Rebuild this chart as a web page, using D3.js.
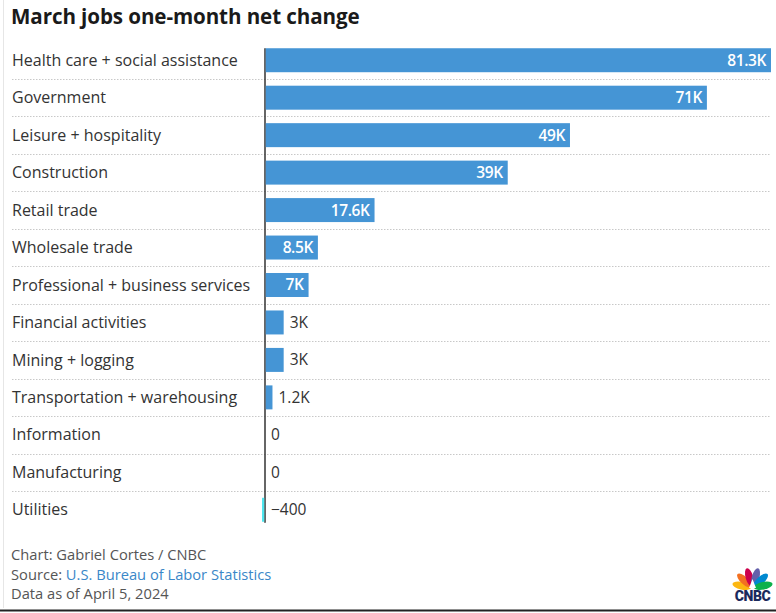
<!DOCTYPE html>
<html>
<head>
<meta charset="utf-8">
<script src="https://cdn.jsdelivr.net/npm/d3@7"></script>
<style>
  html, body { margin: 0; padding: 0; background: #fff; }
  svg { display: block; }
</style>
</head>
<body>
<svg id="chart" width="776" height="613"></svg>
<script>
const titleText = "March jobs one-month net change";
const categories = [
  "Health care + social assistance",
  "Government",
  "Leisure + hospitality",
  "Construction",
  "Retail trade",
  "Wholesale trade",
  "Professional + business services",
  "Financial activities",
  "Mining + logging",
  "Transportation + warehousing",
  "Information",
  "Manufacturing",
  "Utilities"
];
const values = [81300, 71000, 49000, 39000, 17600, 8500, 7000, 3000, 3000, 1200, 0, 0, -400];
const valueLabels = ["81.3K", "71K", "49K", "39K", "17.6K", "8.5K", "7K", "3K", "3K", "1.2K", "0", "0", "\u2212400"];
const footerLines = [
  ["Chart: Gabriel Cortes / CNBC"],
  ["Source: ", "U.S. Bureau of Labor Statistics"],
  ["Data as of April 5, 2024"]
];

const FONT = "'Open Sans', sans-serif";
const svg = d3.select("#chart");
const W = 776, H = 613;

// frame lines
svg.append("line").attr("x1", 3.5).attr("x2", 3.5).attr("y1", 0).attr("y2", 608)
  .attr("stroke", "#e6e6e6").attr("stroke-width", 1);
svg.append("line").attr("x1", 0).attr("x2", W).attr("y1", 610.5).attr("y2", 610.5)
  .attr("stroke", "#222").attr("stroke-width", 2);

svg.append("text").attr("x", 11).attr("y", 24)
  .attr("font-family", FONT).attr("font-weight", 700).attr("font-size", 20.6)
  .attr("letter-spacing", -0.1)
  .attr("fill", "#1a1a1a").text(titleText);

const x = d3.scaleLinear().domain([0, 81300]).range([265, 771]);
const y = d3.scaleBand().domain(categories).range([41.5, 528.5]).paddingInner(0.36).paddingOuter(0.18);
const step = y.step();

// separators
const seps = categories.slice(0, -1);
svg.append("g").selectAll("line").data(seps).join("line")
  .attr("x1", 12).attr("x2", 771)
  .attr("y1", d => Math.round(y(d) + y.bandwidth() + (step - y.bandwidth()) / 2) + 0.5)
  .attr("y2", d => Math.round(y(d) + y.bandwidth() + (step - y.bandwidth()) / 2) + 0.5)
  .attr("stroke", "#c8c8c8").attr("stroke-width", 1).attr("stroke-dasharray", "1.5,1.5");

// category labels
svg.append("g").selectAll("text").data(categories).join("text")
  .attr("x", 12).attr("y", d => y(d) + y.bandwidth() / 2)
  .attr("dy", "0.35em")
  .attr("font-family", FONT).attr("font-size", 16).attr("fill", "#333")
  .text(d => d);

// zero axis
svg.append("line").attr("x1", x(0)).attr("x2", x(0))
  .attr("y1", y(categories[0])).attr("y2", y(categories[categories.length - 1]) + y.bandwidth() + 1)
  .attr("stroke", "#333").attr("stroke-width", 1.5);

// bars
const data = categories.map((c, i) => ({ c, v: values[i], l: valueLabels[i] }));
svg.append("g").selectAll("rect").data(data.filter(d => d.v !== 0)).join("rect")
  .attr("x", d => d.v < 0 ? x(d.v) - 0.5 : x(0) + 0.75)
  .attr("y", d => y(d.c))
  .attr("width", d => d.v < 0 ? Math.abs(x(d.v) - x(0)) - 0.25 : x(d.v) - x(0) - 0.75)
  .attr("height", y.bandwidth())
  .attr("fill", d => d.v < 0 ? "#4ee6ef" : "#4595d5");

// value labels
const inside = d => (x(d.v) - x(0) > 35);
svg.append("g").selectAll("text").data(data).join("text")
  .attr("x", d => inside(d) ? x(d.v) - 5 : Math.max(x(0), x(d.v)) + 6)
  .attr("text-anchor", d => inside(d) ? "end" : "start")
  .attr("y", d => y(d.c) + y.bandwidth() / 2)
  .attr("dy", "0.35em")
  .attr("font-family", FONT).attr("font-size", 15.5)
  .attr("font-weight", d => inside(d) ? 600 : 400)
  .attr("letter-spacing", d => inside(d) ? -0.4 : 0)
  .attr("fill", d => inside(d) ? "#fff" : "#333")
  .text(d => d.l);

// footer
const ft = svg.append("g");
footerLines.forEach((parts, i) => {
  const t = ft.append("text").attr("x", 11).attr("y", 560 + i * 19.5)
    .attr("font-family", FONT).attr("font-size", 14.7).attr("fill", "#555");
  parts.forEach((p, j) => {
    t.append("tspan").attr("fill", j === 1 ? "#3a87c8" : "#555").text(p);
  });
});

// CNBC logo
const logo = svg.append("g").attr("transform", "translate(752.5,588)");
const feathers = [
  { a: -78, c: "#fcb711" },
  { a: -47, c: "#f37021" },
  { a: -16, c: "#cc004c" },
  { a: 16, c: "#6460aa" },
  { a: 47, c: "#0089d0" },
  { a: 78, c: "#0db14b" }
];
logo.selectAll("ellipse").data(feathers).join("ellipse")
  .attr("cx", 0).attr("cy", -11).attr("rx", 3.8).attr("ry", 9.5)
  .attr("transform", d => `rotate(${d.a})`)
  .attr("fill", d => d.c);
logo.append("path").attr("d", "M-3.5,0 L0,-9 L3.5,0 Z").attr("fill", "#fff");
svg.append("text").attr("x", 752.5).attr("y", 601).attr("text-anchor", "middle")
  .attr("font-family", "Roboto, sans-serif").attr("font-weight", 900).attr("font-size", 14)
  .attr("fill", "#1b2a5c").attr("letter-spacing", -0.4).text("CNBC");
</script>
</body>
</html>
